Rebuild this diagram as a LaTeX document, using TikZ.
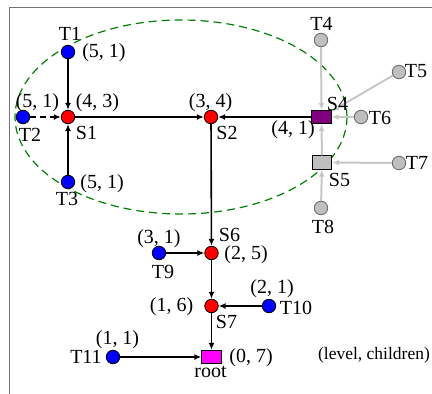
\documentclass[tikz,border=0pt]{standalone}
\usepackage{fontspec}
\setmainfont{Liberation Serif}
\usetikzlibrary{arrows.meta}
\definecolor{rootfill}{RGB}{255,0,255}
\definecolor{purplefill}{RGB}{128,0,128}
\definecolor{leafblue}{RGB}{0,0,255}
\definecolor{sred}{RGB}{255,0,0}
\begin{document}
\begin{tikzpicture}[x=1pt,y=-1pt,
  lbl/.style={inner sep=0pt, font=\fontsize{20}{20}\selectfont},
  small/.style={inner sep=0pt, font=\fontsize{17.5}{17.5}\selectfont},
  dot/.style={circle, minimum size=13.5pt, inner sep=0pt, line width=0.8pt},
  leaf/.style={dot, draw=black, fill=leafblue},
  sn/.style={dot, draw=black, fill=sred},
  gn/.style={dot, draw=black!60, fill=black!25},
  box/.style={rectangle, draw=black, minimum width=19.5pt, minimum height=13.5pt, inner sep=0pt, line width=0.8pt},
  edge/.style={line width=1.6pt, -{Latex[length=7pt,width=6pt]}},
  gedge/.style={line width=2pt, draw=black!22, -{Latex[length=7pt,width=6pt]}},
]
\useasboundingbox (0,0) rectangle (432,394);
% frame
\draw[black!55, line width=1pt] (9,394) -- (9,7) -- (432,7);
% cluster ellipse
\draw[green!50!black, line width=1.2pt, dash pattern=on 8pt off 5pt] (181,117) ellipse [x radius=166, y radius=97];

% nodes
\node[leaf] (T1) at (68,52) {};
\node[sn] (S1) at (68,117) {};
\node[leaf] (T2) at (23,117) {};
\node[leaf] (T3) at (68,182) {};
\node[sn] (S2) at (211,117) {};
\node[box, fill=purplefill] (S4) at (321.5,117) {};
\node[box, fill=black!25] (S5) at (322,162.5) {};
\node[gn] (T4) at (321,40) {};
\node[gn] (T5) at (399,72) {};
\node[gn] (T6) at (361,117) {};
\node[gn] (T7) at (399,163) {};
\node[gn] (T8) at (321,208) {};
\node[sn] (S6) at (211.5,253) {};
\node[leaf] (T9) at (159,253) {};
\node[sn] (S7) at (211.5,306) {};
\node[leaf] (T10) at (269,306) {};
\node[box, fill=rootfill] (root) at (211.5,357) {};
\node[leaf] (T11) at (113,357) {};

% edges
\draw[edge] (T1) -- (S1);
\draw[edge, dash pattern=on 6pt off 4pt] (T2) -- (S1);
\draw[edge] (T3) -- (S1);
\draw[edge] (S1) -- (S2);
\draw[edge] (S4) -- (S2);
\draw[edge] (S2) -- (S6);
\draw[edge] (T9) -- (S6);
\draw[edge] (S6) -- (S7);
\draw[edge] (T10) -- (S7);
\draw[edge] (S7) -- (root);
\draw[edge] (T11) -- (root);
\draw[gedge] (T4) -- (S4);
\draw[gedge] (T5) -- (S4);
\draw[gedge] (T6) -- (S4);
\draw[gedge] (S5) -- (S4);
\draw[gedge] (T7) -- (S5);
\draw[gedge] (T8) -- (S5);

% labels
\node[lbl] (lT1) at (70,34) {T1};
\node[lbl] (vT1) at (104,53) {(5, 1)};
\node[lbl] (vT2) at (37.5,103) {(5, 1)};
\node[lbl] (lT2) at (30,135) {T2};
\node[lbl] (vS1) at (97.5,103) {(4, 3)};
\node[lbl] (lS1) at (86.5,132.5) {S1};
\node[lbl] (vT3) at (102,184) {(5, 1)};
\node[lbl] (lT3) at (67,199) {T3};
\node[lbl] (vS2) at (210.5,103) {(3, 4)};
\node[lbl] (lS2) at (227,133) {S2};
\node[lbl] (lT4) at (321.5,23.5) {T4};
\node[lbl] (lT5) at (416,71.5) {T5};
\node[lbl] (lS4) at (337.5,103.5) {S4};
\node[lbl] (vS4) at (293,130) {(4, 1)};
\node[lbl] (lT6) at (380,118) {T6};
\node[lbl] (lT7) at (417,163) {T7};
\node[lbl] (lS5) at (339.5,179.5) {S5};
\node[lbl] (lT8) at (323,226.5) {T8};
\node[lbl] (lS6) at (229.5,234.5) {S6};
\node[lbl] (vS6) at (246,255) {(2, 5)};
\node[lbl] (vT9) at (159,239) {(3, 1)};
\node[lbl] (lT9) at (163,272) {T9};
\node[lbl] (vS7) at (171.5,307) {(1, 6)};
\node[lbl] (lS7) at (226.5,321.5) {S7};
\node[lbl] (vT10) at (272,288.5) {(2, 1)};
\node[lbl] (lT10) at (296,308) {T10};
\node[lbl] (vroot) at (251,358) {(0, 7)};
\node[lbl] (lroot) at (210.5,371.5) {root};
\node[lbl] (vT11) at (117.5,340) {(1, 1)};
\node[lbl] (lT11) at (86,357) {T11};
\node[small] (legend) at (374,355) {(level, children)};
\end{tikzpicture}
\end{document}
